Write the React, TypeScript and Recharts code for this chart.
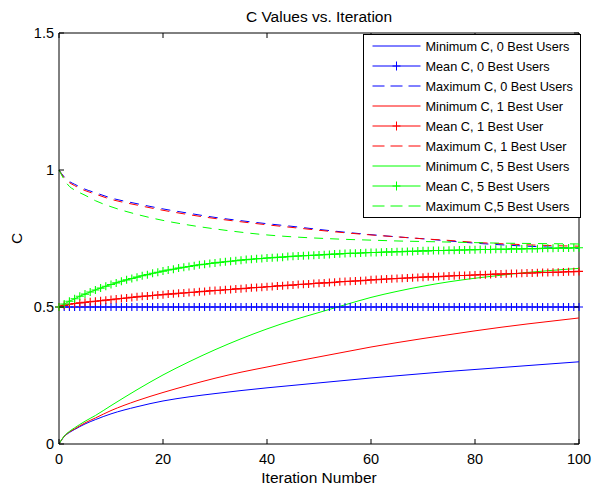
import React from 'react';
import { LineChart, Line, XAxis, YAxis, Legend, ReferenceLine } from 'recharts';

// ---------- data ----------
const iterations = Array.from({ length: 101 }, (_, i) => i);

const meanC0 = [
  0.5, 0.5, 0.5, 0.5, 0.5, 0.5, 0.5, 0.5, 0.5, 0.5,
  0.5, 0.5, 0.5, 0.5, 0.5, 0.5, 0.5, 0.5, 0.5, 0.5,
  0.5, 0.5, 0.5, 0.5, 0.5, 0.5, 0.5, 0.5, 0.5, 0.5,
  0.5, 0.5, 0.5, 0.5, 0.5, 0.5, 0.5, 0.5, 0.5, 0.5,
  0.5, 0.5, 0.5, 0.5, 0.5, 0.5, 0.5, 0.5, 0.5, 0.5,
  0.5, 0.5, 0.5, 0.5, 0.5, 0.5, 0.5, 0.5, 0.5, 0.5,
  0.5, 0.5, 0.5, 0.5, 0.5, 0.5, 0.5, 0.5, 0.5, 0.5,
  0.5, 0.5, 0.5, 0.5, 0.5, 0.5, 0.5, 0.5, 0.5, 0.5,
  0.5, 0.5, 0.5, 0.5, 0.5, 0.5, 0.5, 0.5, 0.5, 0.5,
  0.5, 0.5, 0.5, 0.5, 0.5, 0.5, 0.5, 0.5, 0.5, 0.5,
  0.5,
];

const meanC1 = [
  0.500, 0.506, 0.510, 0.513, 0.515, 0.517, 0.519, 0.521, 0.523, 0.525,
  0.527, 0.529, 0.531, 0.533, 0.535, 0.537, 0.539, 0.540, 0.542, 0.544,
  0.545, 0.547, 0.548, 0.550, 0.551, 0.553, 0.554, 0.556, 0.557, 0.559,
  0.560, 0.561, 0.563, 0.564, 0.566, 0.567, 0.568, 0.570, 0.571, 0.572,
  0.574, 0.575, 0.577, 0.578, 0.579, 0.580, 0.582, 0.583, 0.584, 0.586,
  0.587, 0.588, 0.589, 0.590, 0.592, 0.593, 0.594, 0.595, 0.596, 0.597,
  0.599, 0.600, 0.601, 0.602, 0.603, 0.604, 0.605, 0.606, 0.607, 0.608,
  0.609, 0.610, 0.610, 0.611, 0.612, 0.613, 0.614, 0.615, 0.615, 0.616,
  0.617, 0.618, 0.618, 0.619, 0.620, 0.620, 0.621, 0.622, 0.622, 0.623,
  0.624, 0.624, 0.625, 0.626, 0.626, 0.627, 0.627, 0.628, 0.629, 0.629,
  0.630,
];

const meanC5 = [
  0.500, 0.511, 0.521, 0.530, 0.539, 0.547, 0.555, 0.562, 0.569, 0.576,
  0.582, 0.588, 0.594, 0.599, 0.604, 0.609, 0.614, 0.618, 0.623, 0.627,
  0.631, 0.635, 0.638, 0.642, 0.645, 0.648, 0.651, 0.654, 0.656, 0.659,
  0.661, 0.663, 0.665, 0.667, 0.669, 0.671, 0.673, 0.674, 0.676, 0.677,
  0.679, 0.680, 0.681, 0.682, 0.684, 0.685, 0.686, 0.687, 0.688, 0.689,
  0.690, 0.691, 0.692, 0.693, 0.694, 0.695, 0.696, 0.696, 0.697, 0.698,
  0.699, 0.699, 0.700, 0.701, 0.701, 0.702, 0.702, 0.703, 0.703, 0.704,
  0.705, 0.705, 0.706, 0.706, 0.706, 0.707, 0.707, 0.708, 0.708, 0.709,
  0.709, 0.710, 0.710, 0.710, 0.711, 0.711, 0.711, 0.712, 0.712, 0.712,
  0.713, 0.713, 0.713, 0.714, 0.714, 0.714, 0.715, 0.715, 0.715, 0.716,
  0.716,
];

const sparseIterations = [0, 1, 2, 3, 5, 7, 10, 15, 20, 25, 30, 35, 40, 45, 50, 55, 60, 65, 70, 75, 80, 85, 90, 95, 100];

const minC0 = [0, 0.027, 0.042, 0.053, 0.073, 0.089, 0.110, 0.136, 0.157, 0.172, 0.184, 0.195, 0.205, 0.214, 0.223, 0.232, 0.241, 0.249, 0.257, 0.265, 0.272, 0.279, 0.286, 0.293, 0.300];
const minC1 = [0, 0.028, 0.044, 0.055, 0.077, 0.095, 0.122, 0.158, 0.188, 0.215, 0.240, 0.262, 0.281, 0.300, 0.318, 0.336, 0.354, 0.370, 0.385, 0.399, 0.413, 0.426, 0.438, 0.449, 0.460];
const minC5 = [0, 0.029, 0.046, 0.059, 0.083, 0.104, 0.140, 0.198, 0.252, 0.300, 0.344, 0.384, 0.420, 0.452, 0.480, 0.508, 0.535, 0.557, 0.576, 0.592, 0.605, 0.616, 0.626, 0.634, 0.641];

const maxC0 = [1.0, 0.975, 0.958, 0.948, 0.930, 0.917, 0.898, 0.877, 0.858, 0.842, 0.827, 0.815, 0.804, 0.794, 0.783, 0.773, 0.764, 0.756, 0.749, 0.741, 0.733, 0.727, 0.722, 0.718, 0.714];
const maxC1 = [1.0, 0.971, 0.954, 0.943, 0.925, 0.912, 0.893, 0.872, 0.853, 0.837, 0.823, 0.811, 0.800, 0.790, 0.780, 0.771, 0.763, 0.756, 0.749, 0.743, 0.736, 0.731, 0.727, 0.724, 0.722];
const maxC5 = [1.0, 0.965, 0.940, 0.927, 0.908, 0.888, 0.866, 0.838, 0.816, 0.799, 0.785, 0.773, 0.763, 0.756, 0.751, 0.747, 0.744, 0.741, 0.739, 0.737, 0.735, 0.733, 0.732, 0.731, 0.730];

const xTicks = [0, 20, 40, 60, 80, 100];
const yTicks = [0, 0.5, 1, 1.5];
const X_MAX = 100;
const Y_MAX = 1.5;

const meanData = iterations.map((it, i) => ({ it, mean0: meanC0[i], mean1: meanC1[i], mean5: meanC5[i] }));
const sparseData = sparseIterations.map((it, i) => ({
  it,
  min0: minC0[i], min1: minC1[i], min5: minC5[i],
  max0: maxC0[i], max1: maxC1[i], max5: maxC5[i],
}));

// ---------- layout / style ----------
const W = 594;
const H = 489;
const PLOT_LEFT = 59;
const PLOT_TOP = 33;
const PLOT_RIGHT = 579;
const PLOT_BOTTOM = 444;
const TICK_LEN = 5;
const FONT = '"Liberation Sans", Arial, Helvetica, sans-serif';

const BLUE = '#0000ff';
const RED = '#ff0000';
const GREEN = '#00ff00';

type Series = { key: string; name: string; color: string; kind: 'min' | 'mean' | 'max' };
const series: Series[] = [
  { key: 'min0', name: 'Minimum C, 0 Best Users', color: BLUE, kind: 'min' },
  { key: 'mean0', name: 'Mean C, 0 Best Users', color: BLUE, kind: 'mean' },
  { key: 'max0', name: 'Maximum C, 0 Best Users', color: BLUE, kind: 'max' },
  { key: 'min1', name: 'Minimum C, 1 Best User', color: RED, kind: 'min' },
  { key: 'mean1', name: 'Mean C, 1 Best User', color: RED, kind: 'mean' },
  { key: 'max1', name: 'Maximum C, 1 Best User', color: RED, kind: 'max' },
  { key: 'min5', name: 'Minimum C, 5 Best Users', color: GREEN, kind: 'min' },
  { key: 'mean5', name: 'Mean C, 5 Best Users', color: GREEN, kind: 'mean' },
  { key: 'max5', name: 'Maximum C,5 Best Users', color: GREEN, kind: 'max' },
];

const XTick = (props: any) => {
  const { x, payload } = props;
  return (
    <g>
      <line x1={x} x2={x} y1={PLOT_BOTTOM} y2={PLOT_BOTTOM - TICK_LEN} stroke="#000" />
      <line x1={x} x2={x} y1={PLOT_TOP} y2={PLOT_TOP + TICK_LEN} stroke="#000" />
      <text x={x} y={PLOT_BOTTOM + 20} textAnchor="middle" fontSize={14.5} fontFamily={FONT} fill="#000">
        {payload.value}
      </text>
    </g>
  );
};

const YTick = (props: any) => {
  const { y, payload } = props;
  return (
    <g>
      <line x1={PLOT_LEFT} x2={PLOT_LEFT + TICK_LEN} y1={y} y2={y} stroke="#000" />
      <line x1={PLOT_RIGHT} x2={PLOT_RIGHT - TICK_LEN} y1={y} y2={y} stroke="#000" />
      <text x={PLOT_LEFT - 5} y={y + 5.2} textAnchor="end" fontSize={14.5} fontFamily={FONT} fill="#000">
        {payload.value}
      </text>
    </g>
  );
};

const titleLabel = (props: any) => {
  const vb = props.viewBox && props.viewBox.width ? props.viewBox : { x: PLOT_LEFT, y: PLOT_TOP, width: PLOT_RIGHT - PLOT_LEFT };
  return (
    <text x={vb.x + vb.width / 2} y={vb.y - 11.3} textAnchor="middle" fontSize={15.5} fontFamily={FONT} fill="#000">
      C Values vs. Iteration
    </text>
  );
};

const xLabel = (props: any) => {
  const vb = props.viewBox || { x: PLOT_LEFT, y: PLOT_BOTTOM, width: PLOT_RIGHT - PLOT_LEFT };
  return (
    <text x={vb.x + vb.width / 2} y={vb.y + 39} textAnchor="middle" fontSize={15.5} fontFamily={FONT} fill="#000">
      Iteration Number
    </text>
  );
};

const yLabel = (props: any) => {
  const vb = props.viewBox || { x: 0, y: PLOT_TOP, height: PLOT_BOTTOM - PLOT_TOP };
  const cx = vb.x + 21.7;
  const cy = vb.y + vb.height / 2;
  return (
    <text x={cx} y={cy} transform={`rotate(-90 ${cx} ${cy})`} textAnchor="middle" fontSize={15.5} fontFamily={FONT} fill="#000">
      C
    </text>
  );
};

const plusDot = (color: string) => (p: any) => {
  const { cx, cy, index } = p;
  if (cx == null || cy == null) return <g key={`d${index}`} />;
  return <path key={`d${index}`} d={`M${cx - 4},${cy}h8M${cx},${cy - 4}v8`} stroke={color} strokeWidth={1.1} fill="none" />;
};

const LEG_W = 218;
const LEG_H = 184;

const renderLegend = (props: any) => {
  const items = [...(props.payload || [])];
  const order = (v: string) => series.findIndex((s) => s.name === v);
  items.sort((a: any, b: any) => order(a.value) - order(b.value));
  return (
    <svg width={LEG_W} height={LEG_H} style={{ display: 'block' }}>
      <rect x={0.5} y={0.5} width={LEG_W - 1} height={LEG_H - 1} fill="#fff" stroke="#000" />
      {items.map((entry: any, i: number) => {
        const cfg = series[order(entry.value)];
        const y = 12 + i * 20;
        return (
          <g key={entry.value}>
            <line x1={9.5} x2={57.5} y1={y} y2={y} stroke={entry.color} strokeDasharray={cfg && cfg.kind === 'max' ? '12 6' : undefined} />
            {cfg && cfg.kind === 'mean' && (
              <path d={`M29.5,${y}h8M33.5,${y - 4.5}v9`} stroke={entry.color} fill="none" />
            )}
            <text x={62.5} y={y + 4.7} fontSize={12.7} fontFamily={FONT} fill="#000">
              {entry.value}
            </text>
          </g>
        );
      })}
    </svg>
  );
};

export default function App() {
  return (
    <div style={{ position: 'fixed', left: 0, top: 0, width: W, height: H, background: '#fff' }}>
      <LineChart width={W} height={H} margin={{ top: PLOT_TOP, right: W - PLOT_RIGHT, bottom: 0, left: 0 }}>
        <XAxis
          xAxisId="b"
          dataKey="it"
          type="number"
          domain={[0, X_MAX]}
          ticks={xTicks}
          height={H - PLOT_BOTTOM}
          axisLine={{ stroke: '#000' }}
          tickLine={false}
          tick={XTick}
          allowDuplicatedCategory={false}
          label={xLabel}
        />
        <YAxis
          yAxisId="l"
          type="number"
          domain={[0, Y_MAX]}
          ticks={yTicks}
          width={PLOT_LEFT}
          axisLine={{ stroke: '#000' }}
          tickLine={false}
          tick={YTick}
          label={yLabel}
        />
        <ReferenceLine xAxisId="b" yAxisId="l" y={Y_MAX} stroke="#000" label={titleLabel} />
        <ReferenceLine xAxisId="b" yAxisId="l" x={X_MAX} stroke="#000" />
        <Legend
          layout="horizontal"
          verticalAlign="middle"
          align="center"
          content={renderLegend}
          wrapperStyle={{ position: 'absolute', left: 363, top: 34, width: LEG_W, height: LEG_H }}
        />
        {series.map((s) => {
          const isMean = s.kind === 'mean';
          return (
            <Line
              key={s.key}
              xAxisId="b"
              yAxisId="l"
              data={isMean ? meanData : sparseData}
              dataKey={s.key}
              name={s.name}
              type={isMean ? 'linear' : 'monotone'}
              stroke={s.color}
              strokeWidth={1}
              strokeDasharray={s.kind === 'max' ? '9 7' : undefined}
              dot={isMean ? plusDot(s.color) : false}
              activeDot={false}
              isAnimationActive={false}
            />
          );
        })}
      </LineChart>
    </div>
  );
}
